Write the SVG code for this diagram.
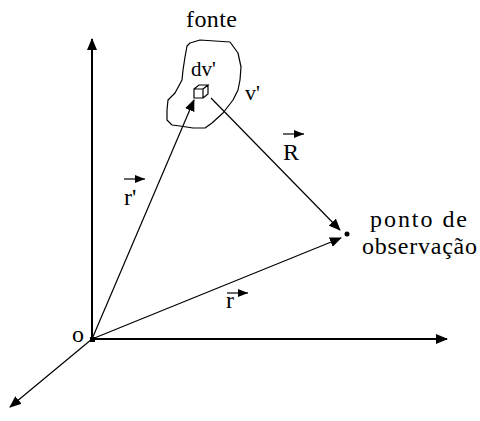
<svg xmlns="http://www.w3.org/2000/svg" width="480" height="421" viewBox="0 0 480 421">
<style>
text{font-family:"Liberation Serif","DejaVu Serif","Times New Roman",serif;font-size:24px;fill:#000}
.ax{stroke:#000;stroke-width:2;fill:none}
.ln{stroke:#000;stroke-width:1.2;fill:none}
</style>
<defs>
<marker id="ah" markerWidth="12" markerHeight="10" refX="11" refY="5" orient="auto" markerUnits="userSpaceOnUse">
<path d="M0,0 L12,5 L0,10 Z" fill="#000"/>
</marker>
<marker id="sa" markerWidth="10" markerHeight="8" refX="10" refY="4" orient="auto" markerUnits="userSpaceOnUse">
<path d="M0,0 L10,4 L0,8 Z" fill="#000"/>
</marker>
</defs>
<rect width="480" height="421" fill="#fff"/>
<g id="connectors">
<line class="ax" x1="92" y1="339" x2="92" y2="39" marker-end="url(#ah)"/>
<line class="ax" x1="92" y1="339" x2="447" y2="339" marker-end="url(#ah)"/>
<line class="ln" x1="92" y1="339" x2="10" y2="407" marker-end="url(#ah)"/>
<line class="ln" x1="92" y1="339" x2="194" y2="100" marker-end="url(#ah)"/>
<line class="ln" x1="92" y1="339" x2="341" y2="238" marker-end="url(#ah)"/>
<line class="ln" x1="211" y1="98" x2="340" y2="230" marker-end="url(#ah)"/>
</g>
<g id="origin">
<rect x="90" y="337" width="5" height="5" fill="#000"/>
<text x="72" y="342" style="font-size:24px;font-weight:normal">o</text>
</g>
<g id="fonte">
<path class="ln" stroke-width="1.5" stroke-linejoin="round" d="M190,43 L200,40 L230,42 L238,53 L241,67 L240,80 L238,90 L233,100 L223,113 L212,123 L205,128 L193,128 L180,126 L172,125 L167,120 L167,110 L168,100 L175,93 L182,80 L183,70 L185,57 L187,46 Z"/>
<text x="186" y="27" textLength="51" lengthAdjust="spacing">fonte</text>
<text x="191" y="76" style="font-size:21px">dv'</text>
<text x="245" y="100" style="font-size:22px">v'</text>
<path class="ln" stroke-width="1.2" d="M194,89 L203,89 L203,98 L194,98 Z M194,89 L199,85 L208,85 L203,89 M208,85 L208,94 L203,98"/>
</g>
<g id="vec-rp">
<line class="ln" x1="124" y1="179" x2="145" y2="179" marker-end="url(#sa)"/>
<text x="124" y="205">r'</text>
</g>
<g id="vec-R">
<line class="ln" x1="283" y1="134" x2="304" y2="134" marker-end="url(#sa)"/>
<text x="283" y="160">R</text>
</g>
<g id="vec-r">
<line class="ln" x1="227" y1="293" x2="248" y2="293" marker-end="url(#sa)"/>
<text x="226" y="308">r</text>
</g>
<g id="obs">
<circle cx="347" cy="234" r="2.5" fill="#000"/>
<text x="370" y="227" textLength="97" lengthAdjust="spacing">ponto de</text>
<text x="362" y="254" textLength="115" lengthAdjust="spacing">observação</text>
</g>
</svg>
